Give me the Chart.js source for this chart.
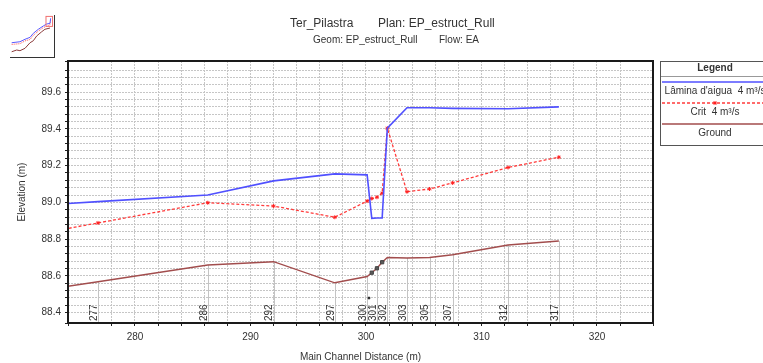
<!DOCTYPE html>
<html>
<head>
<meta charset="utf-8">
<script src="https://cdn.jsdelivr.net/npm/chart.js@4"></script>
<style>
  body { margin: 0; background: #fff; }
  #wrap { position: relative; width: 763px; height: 363px; overflow: hidden; }
  #thumbBox { position: absolute; left: 10px; top: 15px; width: 44px; height: 42px;
              border-right: 1px solid #333; border-bottom: 1px solid #333; }
</style>
</head>
<body>
<div id="wrap">
  <canvas id="profile" width="763" height="363"></canvas>
  <div id="thumbBox"><canvas id="thumb" width="44" height="42"></canvas></div>
</div>
<script>
// main channel distance (m) of each profile point, first one is upstream of the view
const dist = [270, 276.8, 286.3, 292.0, 297.3, 300.1, 300.5, 300.95, 301.4, 301.85, 303.55, 305.5, 307.5, 312.3, 316.7];
const stationNames = ['', '277', '286', '292', '297', '300', '', '301', '', '302', '303', '305', '307', '312', '317'];
// elevations (m)
const wsel = [88.978, 89.004, 89.04, 89.117, 89.155, 89.15, 88.913, 88.915, 88.915, 89.404, 89.515, 89.515, 89.512, 89.51, 89.52];
const crit = [88.81, 88.888, 88.998, 88.98, 88.919, 89.007, 89.021, 89.028, 89.05, 89.404, 89.058, 89.073, 89.106, 89.19, 89.246];
const ground = [88.503, 88.568, 88.659, 88.677, 88.562, 88.596, 88.617, 88.641, 88.674, 88.70, 88.697, 88.70, 88.715, 88.768, 88.79];
// bridge deck markers and the small point below them
const deckDist = [300.5, 300.95, 301.4];
const deckElev = [88.617, 88.641, 88.674];
const markDist = [300.26];
const markElev = [88.479];

// overview thumbnail (whole reach)
const thumbDist = [13, 77, 116, 155, 180, 219, 257, 283, 309, 314];
const thumbWs = [85.94, 86.08, 86.43, 86.71, 87.28, 87.86, 88.33, 88.61, 88.71, 89.43];
const thumbCrit = [85.7, 85.8, 86.2, 86.4, 87.0, 87.6, 88.1, 88.3, 88.5, 89.2];
const thumbGroundDist = [13, 52, 77, 116, 155, 180, 206, 245, 270, 309];
const thumbGround = [84.65, 84.9, 84.8, 85.14, 85.94, 86.22, 86.9, 87.51, 87.86, 88.04];

const FONT = "'Liberation Sans', Arial, sans-serif";
const xMin = 274.2, xMax = 324.85, yMin = 88.343, yMax = 89.77;
Chart.defaults.font.family = FONT;

const pts = (xs, ys) => xs.map((x, i) => ({ x: x, y: ys[i] }));

const decor = {
  id: 'decor',
  beforeDatasetsDraw(chart) {
    const { ctx, chartArea: a, scales: { x, y } } = chart;
    ctx.save();
    ctx.strokeStyle = '#c4c4c4';
    ctx.lineWidth = 1;
    stationNames.forEach((name, i) => {
      if (!name) return;
      const px = Math.round(x.getPixelForValue(dist[i])) + 0.5;
      ctx.beginPath();
      ctx.moveTo(px, y.getPixelForValue(ground[i]));
      ctx.lineTo(px, a.bottom);
      ctx.stroke();
    });
    ctx.fillStyle = '#333';
    ctx.font = '10px ' + FONT;
    ctx.textAlign = 'left';
    ctx.textBaseline = 'middle';
    stationNames.forEach((name, i) => {
      if (!name) return;
      const px = x.getPixelForValue(dist[i]);
      ctx.save();
      ctx.translate(px - 4, a.bottom - 2);
      ctx.rotate(-Math.PI / 2);
      ctx.fillText(name, 0, 0);
      ctx.restore();
    });
    ctx.restore();
  },
  afterDraw(chart) {
    const { ctx, chartArea: a } = chart;
    ctx.save();
    // plot frame
    ctx.strokeStyle = '#1a1a1a';
    ctx.lineWidth = 2;
    ctx.strokeRect(a.left, a.top, a.right - a.left, a.bottom - a.top);

    // titles
    ctx.fillStyle = '#333';
    ctx.textAlign = 'left';
    ctx.textBaseline = 'middle';
    ctx.font = '12px ' + FONT;
    ctx.fillText('Ter_Pilastra', 290, 24);
    ctx.fillText('Plan: EP_estruct_Rull', 378, 24);
    ctx.font = '10px ' + FONT;
    ctx.fillText('Geom: EP_estruct_Rull', 313, 40);
    ctx.fillText('Flow: EA', 439, 40);

    // legend box
    const lx = a.right + 7, ly = a.top, lw = 112, cx = lx + 55;
    ctx.strokeStyle = '#555';
    ctx.lineWidth = 1;
    ctx.strokeRect(lx + 0.5, ly + 0.5, lw, 84);
    ctx.textAlign = 'center';
    ctx.font = 'bold 10px ' + FONT;
    ctx.fillText('Legend', cx, ly + 7.5);
    ctx.strokeStyle = '#999';
    ctx.beginPath();
    ctx.moveTo(lx + 1, ly + 15.5);
    ctx.lineTo(lx + lw, ly + 15.5);
    ctx.stroke();
    ctx.font = '10px ' + FONT;
    chart.data.datasets.slice(0, 3).forEach((ds, k) => {
      const ly2 = ly + 21 + k * 21;
      ctx.strokeStyle = ds.borderColor;
      ctx.lineWidth = ds.borderWidth;
      ctx.setLineDash(ds.borderDash || []);
      ctx.beginPath();
      ctx.moveTo(lx + 2, ly2);
      ctx.lineTo(lx + lw, ly2);
      ctx.stroke();
      ctx.setLineDash([]);
      if (ds.pointRadius && Chart.helpers && Chart.helpers.drawPoint) {
        ctx.fillStyle = ds.pointBackgroundColor;
        ctx.strokeStyle = ds.pointBorderColor;
        ctx.lineWidth = 1;
        Chart.helpers.drawPoint(ctx, { pointStyle: ds.pointStyle, radius: ds.pointRadius, rotation: 0, borderWidth: 1 }, cx, ly2);
      }
      ctx.fillStyle = '#333';
      ctx.fillText(ds.label, cx, ly + 30.5 + k * 21);
    });
    ctx.restore();
  }
};

new Chart(document.getElementById('profile'), {
  type: 'line',
  data: {
    datasets: [
      {
        label: "Lâmina d'aigua  4 m³/s",
        data: pts(dist, wsel),
        borderColor: '#5050ff',
        borderWidth: 1.6,
        pointRadius: 0,
        clip: 0,
      },
      {
        label: 'Crit  4 m³/s',
        data: pts(dist, crit),
        borderColor: '#ff3b3b',
        borderWidth: 1.3,
        borderDash: [3, 2],
        pointStyle: 'star',
        pointRadius: 2,
        pointBorderColor: '#ff2020',
        pointBackgroundColor: '#ff2020',
        pointBorderWidth: 1,
        clip: 0,
      },
      {
        label: 'Ground',
        data: pts(dist, ground),
        borderColor: '#a24d4d',
        borderWidth: 1.4,
        pointRadius: 0,
        clip: 0,
      },
      {
        label: 'deck',
        data: pts(deckDist, deckElev),
        showLine: false,
        order: -1,
        pointStyle: 'rect',
        pointRadius: 2.3,
        pointBackgroundColor: '#5a5a5a',
        pointBorderColor: '#444',
      },
      {
        label: 'mark',
        data: pts(markDist, markElev),
        showLine: false,
        order: -1,
        pointRadius: 1,
        pointBackgroundColor: '#222',
        pointBorderColor: '#222',
      },
    ],
  },
  options: {
    responsive: false,
    animation: false,
    events: [],
    layout: { padding: { left: 0, right: 110, top: 61, bottom: 0 } },
    plugins: { legend: { display: false }, tooltip: { enabled: false } },
    scales: {
      x: {
        type: 'linear',
        min: xMin,
        max: xMax,
        afterFit: s => { s.height = 40; },
        border: { display: false, dash: [2, 1] },
        grid: { color: '#c6c6c6', tickColor: '#222', tickLength: 3 },
        ticks: {
          stepSize: 2,
          autoSkip: false,
          maxRotation: 0,
          padding: 5,
          color: '#333',
          font: { size: 10 },
          callback: v => (Math.abs(v / 10 - Math.round(v / 10)) < 1e-6 ? String(Math.round(v)) : ''),
        },
        title: {
          display: true,
          text: 'Main Channel Distance (m)',
          color: '#333',
          font: { size: 10, lineHeight: 1 },
          padding: { top: 0, bottom: 1 },
        },
      },
      y: {
        min: yMin,
        max: yMax,
        afterFit: s => { s.width = 68; },
        border: { display: false, dash: [2, 1] },
        grid: { color: '#c6c6c6', tickColor: '#222', tickLength: 3 },
        ticks: {
          stepSize: 0.04,
          maxTicksLimit: 100,
          autoSkip: false,
          padding: 4,
          color: '#333',
          font: { size: 10 },
          callback: v => {
            const k = v * 5;
            return Math.abs(k - Math.round(k)) < 1e-6 ? v.toFixed(1) : '';
          },
        },
        title: {
          display: true,
          text: 'Elevation (m)',
          color: '#333',
          font: { size: 10, lineHeight: 1.2 },
          padding: { top: 16, bottom: 0 },
        },
      },
    },
  },
  plugins: [decor],
});

// overview with the zoom window marked
const zoomBox = {
  id: 'zoomBox',
  afterDraw(chart) {
    const { ctx, scales: { x, y } } = chart;
    const x0 = x.getPixelForValue(xMin), x1 = x.getPixelForValue(xMax);
    const y0 = y.getPixelForValue(yMax), y1 = y.getPixelForValue(yMin);
    ctx.save();
    ctx.strokeStyle = '#f07070';
    ctx.lineWidth = 1;
    ctx.strokeRect(x0 + 0.5, y0 + 0.5, x1 - x0, y1 - y0);
    ctx.restore();
  }
};

new Chart(document.getElementById('thumb'), {
  type: 'line',
  data: {
    datasets: [
      { data: pts(thumbDist, thumbWs), borderColor: '#5a5aff', borderWidth: 1, pointRadius: 0 },
      { data: pts(thumbDist, thumbCrit), borderColor: '#ff5050', borderWidth: 1, borderDash: [1, 1], pointRadius: 0 },
      { data: pts(thumbGroundDist, thumbGround), borderColor: '#8a3a3a', borderWidth: 1, pointRadius: 0 },
    ],
  },
  options: {
    responsive: false,
    animation: false,
    events: [],
    layout: { padding: 0 },
    plugins: { legend: { display: false }, tooltip: { enabled: false } },
    scales: {
      x: { type: 'linear', display: false, min: 0, max: 340 },
      y: { display: false, min: 83.9, max: 89.9 },
    },
  },
  plugins: [zoomBox],
});
</script>
</body>
</html>
